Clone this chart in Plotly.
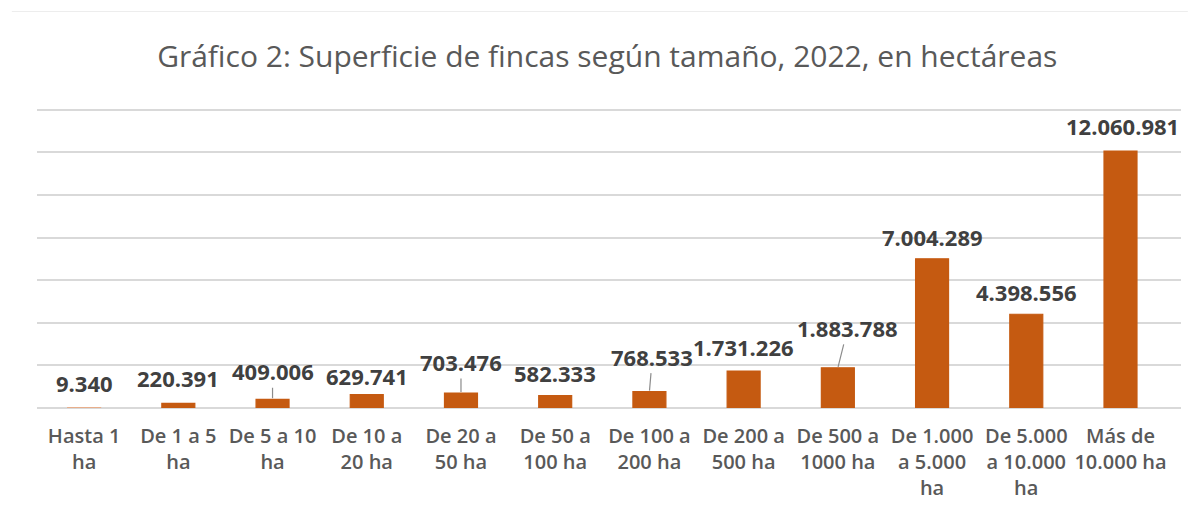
import plotly.graph_objects as go

categories = ["Hasta 1<br>ha", "De 1 a 5<br>ha", "De 5 a 10<br>ha", "De 10 a<br>20 ha",
              "De 20 a<br>50 ha", "De 50 a<br>100 ha", "De 100 a<br>200 ha", "De 200 a<br>500 ha",
              "De 500 a<br>1000 ha", "De 1.000<br>a 5.000<br>ha", "De 5.000<br>a 10.000<br>ha",
              "Más de<br>10.000 ha"]
values = [9340, 220391, 409006, 629741, 703476, 582333, 768533, 1731226, 1883788,
          7004289, 4398556, 12060981]
value_labels = ["9.340", "220.391", "409.006", "629.741", "703.476", "582.333", "768.533",
                "1.731.226", "1.883.788", "7.004.289", "4.398.556", "12.060.981"]
grid_values = [2e6, 4e6, 6e6, 8e6, 10e6, 12e6, 14e6]

# label placement (pixels above bar top), leader-line flag, horizontal shift
label_offsets = [25, 25, 28, 19, 31, 23, 35, 24, 40, 22, 22, 25]
leader = [False, False, True, False, True, False, True, False, True, False, False, False]
label_dx = [0, 0, 0, 0, 0, 0, 3, 0, 10, 0, 0, 2]

BAR = "#C55A11"
bar_colors = [BAR] * len(values)
bar_colors[0] = "#EBA47A"

fig = go.Figure()
fig.add_trace(go.Bar(
    x=categories, y=values,
    marker=dict(color=bar_colors, line=dict(color=bar_colors, width=1.2)),
    width=0.35, hoverinfo="x+y",
))

LABEL_FONT = dict(family="Open Sans", size=22, color="#404040", weight="bold")
for c, v, t, off, ld, dx in zip(categories, values, value_labels, label_offsets, leader, label_dx):
    if ld:
        fig.add_annotation(x=c, y=v, text=t, showarrow=True, arrowhead=0, arrowwidth=1.2,
                           arrowcolor="#8C8C8C", ax=dx, ay=-off, standoff=1, font=LABEL_FONT)
    else:
        fig.add_annotation(x=c, y=v, text=t, showarrow=False, yshift=off, xshift=dx,
                           yanchor="middle", font=LABEL_FONT)

fig.add_shape(type="line", xref="paper", yref="paper", x0=-0.022, x1=1.006, y0=1.283, y1=1.283,
              line=dict(color="#EDEDED", width=1))

# page body has an 8px default margin; figure size and margins compensate for it
fig.update_layout(
    width=1182, height=504,
    margin=dict(l=29, r=9, t=91, b=104, autoexpand=False),
    paper_bgcolor="white", plot_bgcolor="white",
    title=dict(text="Gráfico 2: Superficie de fincas según tamaño, 2022, en hectáreas",
               x=0.507, xanchor="center", y=0.903, yanchor="middle", yref="container",
               font=dict(family="Open Sans", size=30, color="#595959")),
    showlegend=False,
    xaxis=dict(tickfont=dict(family="Open Sans", size=20, color="#595959", weight=600),
               showgrid=False, showline=False, ticks="", tickangle=0, automargin=False,
               ticklabelstandoff=14),
    yaxis=dict(range=[0, 14500000], tickvals=grid_values,
               showticklabels=False, automargin=False,
               showgrid=True, gridcolor="#D9D9D9", gridwidth=2,
               zeroline=True, zerolinecolor="#D9D9D9", zerolinewidth=2, showline=False),
)

fig.write_html("out.html")
